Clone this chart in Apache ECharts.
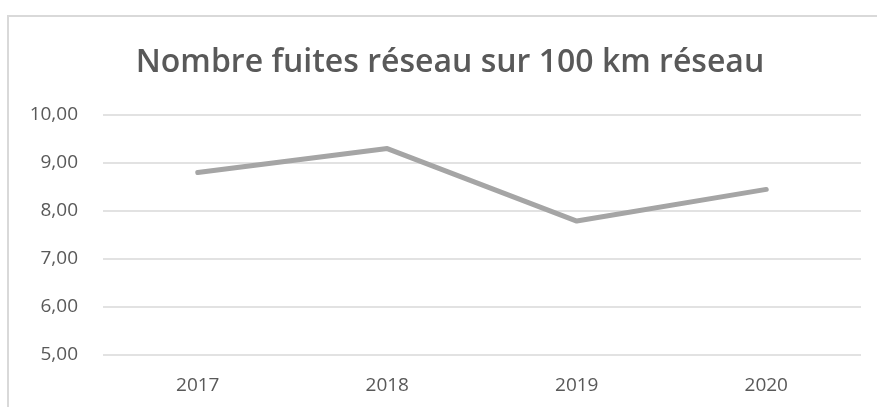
<!DOCTYPE html>
<html>
<head>
<meta charset="utf-8">
<script src="https://cdn.jsdelivr.net/npm/echarts@6/dist/echarts.min.js"></script>
<style>
html,body{margin:0;padding:0;background:#fff;}
#c{width:877px;height:407px;}
</style>
</head>
<body>
<div id="c"></div>
<script>
const titleText = 'Nombre fuites réseau sur 100 km réseau';
const categories = ['2017', '2018', '2019', '2020'];
const fuites = [8.80, 9.30, 7.79, 8.45];
const yMin = 5, yMax = 10, yStep = 1;

const chart = echarts.init(document.getElementById('c'), null, {renderer: 'canvas'});
const font = 'Open Sans';
chart.setOption({
  backgroundColor: '#ffffff',
  animation: false,
  title: {
    text: titleText,
    left: 445,
    top: 42,
    textAlign: 'center',
    textStyle: {fontFamily: font, fontSize: 32, fontWeight: 600, color: '#595959'}
  },
  graphic: [
    {type: 'line', shape: {x1: 7, y1: 16, x2: 877, y2: 16}, style: {stroke: '#d9d9d9', lineWidth: 2}, silent: true},
    {type: 'line', shape: {x1: 8, y1: 16, x2: 8, y2: 407}, style: {stroke: '#d9d9d9', lineWidth: 2}, silent: true}
  ],
  grid: {left: 103, right: 16, top: 115, bottom: 52, containLabel: false},
  xAxis: {
    type: 'category',
    data: categories,
    boundaryGap: true,
    axisLine: {show: false},
    axisTick: {show: false},
    axisLabel: {fontFamily: font, fontSize: 19, color: '#595959', margin: 21}
  },
  yAxis: {
    type: 'value',
    min: yMin, max: yMax, interval: yStep,
    axisLine: {show: false},
    axisTick: {show: false},
    splitLine: {lineStyle: {color: '#d9d9d9', width: 1.5}},
    axisLabel: {
      fontFamily: font, fontSize: 19, color: '#595959', margin: 25,
      formatter: v => v.toFixed(2).replace('.', ',')
    }
  },
  series: [{
    type: 'line',
    data: fuites,
    symbol: 'none',
    lineStyle: {color: '#a5a5a5', width: 5, cap: 'round', join: 'round'},
    itemStyle: {color: '#a5a5a5'}
  }]
});
</script>
</body>
</html>
